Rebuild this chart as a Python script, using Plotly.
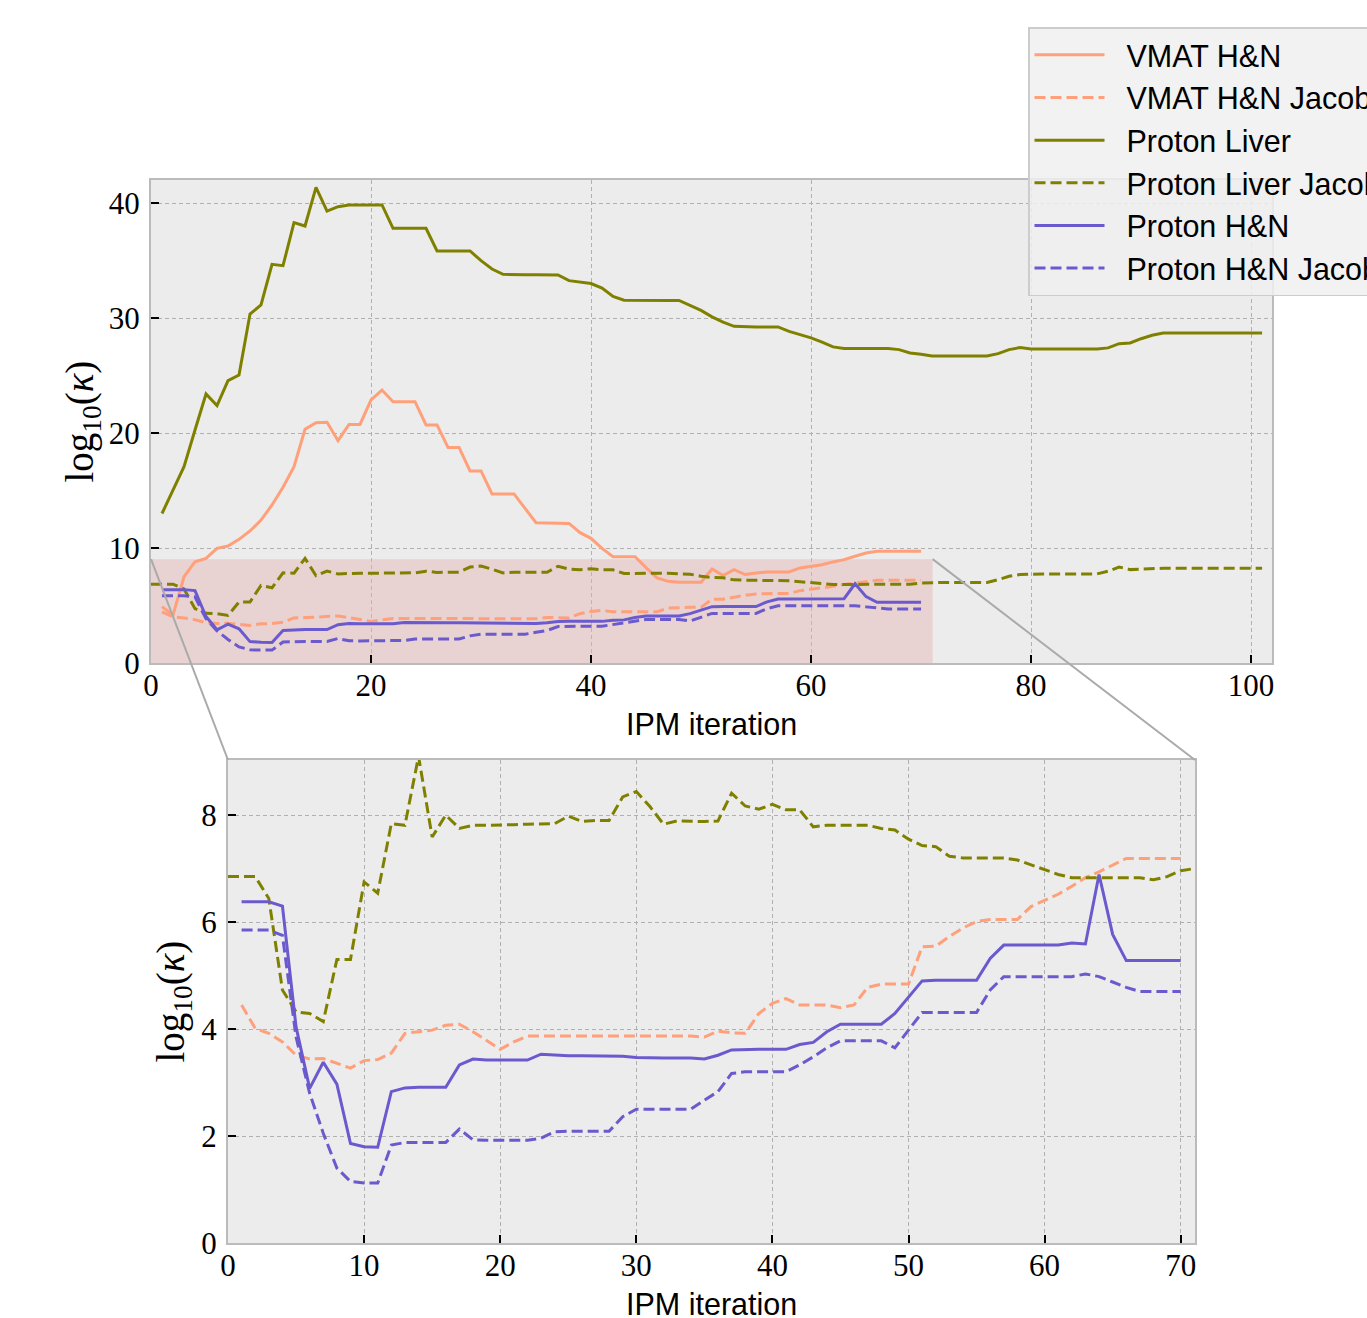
import plotly.graph_objects as go

W, H = 1367, 1318

# ---------------- data ----------------
iters_70 = list(range(1, 71))
iters_101 = list(range(1, 102))
iters_liver_jac = list(range(0, 102))

vmat_hn = [4.9, 4.17, 7.5, 8.81, 9.10, 9.97, 10.17, 10.75, 11.48, 12.43,
           13.74, 15.28, 17.07, 20.32, 20.9, 20.93, 19.33, 20.75, 20.75, 22.87,
           23.74, 22.72, 22.72, 22.72, 20.7, 20.7, 18.75, 18.75, 16.7, 16.7,
           14.7, 14.7, 14.7, 13.45, 12.2, 12.17, 12.15, 12.14, 11.33, 10.84,
           9.97, 9.25, 9.25, 9.25, 8.3, 7.4, 7.1, 7.02, 7.02, 7.02,
           8.18, 7.6, 8.12, 7.69, 7.83, 7.92, 7.92, 7.92, 8.27, 8.41,
           8.55, 8.79, 8.99, 9.28, 9.57, 9.71, 9.71, 9.71, 9.71, 9.71]

vmat_hn_jac = [4.45, 4.01, 3.92, 3.76, 3.51, 3.44, 3.45, 3.36, 3.27, 3.41,
               3.43, 3.55, 3.92, 3.95, 3.98, 4.07, 4.09, 3.95, 3.79, 3.62,
               3.76, 3.87, 3.87, 3.87, 3.87, 3.87, 3.87, 3.87, 3.87, 3.87,
               3.87, 3.87, 3.87, 3.87, 3.85, 3.96, 3.93, 3.92, 4.29, 4.48,
               4.57, 4.45, 4.45, 4.45, 4.40, 4.45, 4.78, 4.84, 4.84, 4.84,
               5.54, 5.55, 5.73, 5.89, 6.01, 6.05, 6.05, 6.05, 6.29, 6.41,
               6.52, 6.67, 6.83, 6.94, 7.07, 7.19, 7.19, 7.19, 7.19, 7.19]

proton_liver = [13.0, 15.04, 17.07, 20.26, 23.39, 22.38, 24.55, 25.04, 30.35, 31.13,
                34.67, 34.55, 38.29, 38.0, 41.36, 39.30, 39.68, 39.83, 39.83, 39.83,
                39.83, 37.8, 37.8, 37.8, 37.8, 35.83, 35.83, 35.83, 35.83, 34.99,
                34.26, 33.8, 33.76, 33.76, 33.76, 33.76, 33.74, 33.25, 33.1, 33.0,
                32.6, 31.87, 31.55, 31.53, 31.53, 31.53, 31.53, 31.53, 31.1, 30.66,
                30.1, 29.65, 29.28, 29.22, 29.22, 29.22, 29.22, 28.84, 28.55, 28.27,
                27.9, 27.49, 27.34, 27.34, 27.34, 27.34, 27.34, 27.25, 26.96, 26.85,
                26.7, 26.7, 26.7, 26.7, 26.7, 26.7, 26.9, 27.25, 27.43, 27.31,
                27.31, 27.31, 27.31, 27.31, 27.31, 27.31, 27.4, 27.77, 27.83, 28.2,
                28.5, 28.7, 28.7, 28.7, 28.7, 28.7, 28.7, 28.7, 28.7, 28.7,
                28.7]

proton_liver_jac = [6.85, 6.85, 6.85, 6.44, 4.73, 4.32, 4.29, 4.14, 5.30, 5.30,
                    6.75, 6.54, 7.84, 7.81, 9.10, 7.59, 8.0, 7.75, 7.81, 7.81,
                    7.81, 7.82, 7.83, 7.83, 7.84, 7.98, 7.88, 7.90, 7.90, 8.34,
                    8.44, 8.16, 7.83, 7.89, 7.88, 7.88, 7.89, 8.41, 8.17, 8.11,
                    8.20, 8.10, 8.10, 7.78, 7.81, 7.81, 7.81, 7.81, 7.75, 7.72,
                    7.55, 7.43, 7.41, 7.23, 7.20, 7.20, 7.20, 7.20, 7.16, 7.07,
                    6.97, 6.89, 6.83, 6.83, 6.83, 6.83, 6.83, 6.83, 6.79, 6.85,
                    6.96, 7.0, 7.0, 7.0, 7.0, 7.0, 7.0, 7.25, 7.54, 7.69,
                    7.75, 7.75, 7.75, 7.75, 7.75, 7.75, 7.75, 7.98, 8.35, 8.12,
                    8.18, 8.24, 8.24, 8.24, 8.24, 8.24, 8.24, 8.24, 8.24, 8.24,
                    8.24, 8.24]

proton_hn = [6.38, 6.38, 6.38, 6.30, 4.04, 2.89, 3.38, 2.97, 1.86, 1.80,
             1.79, 2.83, 2.90, 2.91, 2.91, 2.91, 3.33, 3.44, 3.42, 3.42,
             3.42, 3.42, 3.53, 3.51, 3.50, 3.50, 3.50, 3.50, 3.49, 3.47,
             3.46, 3.46, 3.46, 3.46, 3.44, 3.51, 3.61, 3.62, 3.62, 3.62,
             3.62, 3.71, 3.75, 3.95, 4.09, 4.09, 4.09, 4.09, 4.29, 4.60,
             4.90, 4.91, 4.91, 4.91, 4.91, 5.32, 5.57, 5.57, 5.57, 5.57,
             5.57, 5.61, 5.59, 6.89, 5.77, 5.28, 5.28, 5.28, 5.28, 5.28]

proton_hn_jac = [5.85, 5.85, 5.85, 5.75, 3.85, 2.80, 2.05, 1.40, 1.15, 1.12,
                 1.12, 1.83, 1.88, 1.88, 1.88, 1.88, 2.13, 1.93, 1.92, 1.92,
                 1.92, 1.92, 1.96, 2.08, 2.09, 2.09, 2.09, 2.09, 2.36, 2.50,
                 2.50, 2.50, 2.50, 2.50, 2.67, 2.83, 3.17, 3.20, 3.20, 3.20,
                 3.20, 3.33, 3.48, 3.65, 3.78, 3.78, 3.78, 3.78, 3.65, 3.98,
                 4.31, 4.31, 4.31, 4.31, 4.31, 4.73, 4.98, 4.98, 4.98, 4.98,
                 4.98, 4.98, 5.03, 4.98, 4.88, 4.78, 4.70, 4.70, 4.70, 4.70]

top_xticks = [0, 20, 40, 60, 80, 100]
top_yticks = [0, 10, 20, 30, 40]
bot_xticks = [0, 10, 20, 30, 40, 50, 60, 70]
bot_yticks = [0, 2, 4, 6, 8]

# ---------------- styling ----------------
SALMON = "#ffa07a"
OLIVE = "#808000"
SLATE = "#6a5acd"
LW = 3
DASH = "11px,5px"

top_xdom = [151 / W, 1272 / W]
top_ydom = [1 - 663 / H, 1 - 180 / H]
bot_xdom = [228 / W, 1195 / W]
bot_ydom = [1 - 1243 / H, 1 - 760 / H]
top_xrng = [0, 101.9]
top_yrng = [0, 42.0]
bot_xrng = [0, 71.05]
bot_yrng = [0, 9.03]


def to_paper(dom, rng, v):
    return dom[0] + (v - rng[0]) / (rng[1] - rng[0]) * (dom[1] - dom[0])


fig = go.Figure()

series = [
    ("VMAT H&N", iters_70, vmat_hn, SALMON, "solid", False),
    ("VMAT H&N Jacobian", iters_70, vmat_hn_jac, SALMON, DASH, True),
    ("Proton Liver", iters_101, proton_liver, OLIVE, "solid", False),
    ("Proton Liver Jacobian", iters_liver_jac, proton_liver_jac, OLIVE, DASH, True),
    ("Proton H&N", iters_70, proton_hn, SLATE, "solid", True),
    ("Proton H&N Jacobian", iters_70, proton_hn_jac, SLATE, DASH, True),
]

NB = "\u00a0\u00a0"
for name, xs, ys, col, dash, in_inset in series:
    fig.add_trace(go.Scatter(x=xs, y=ys, mode="lines", name=NB + name,
                             legendgroup=name,
                             line=dict(color=col, width=LW, dash=dash),
                             xaxis="x", yaxis="y", showlegend=True))

for name, xs, ys, col, dash, in_inset in series:
    if in_inset:
        fig.add_trace(go.Scatter(x=xs, y=ys, mode="lines", name=name,
                                 line=dict(color=col, width=LW, dash=dash),
                                 xaxis="x2", yaxis="y2", showlegend=False))

axis_common = dict(
    showgrid=True, gridcolor="#b0b0b0", gridwidth=1, griddash="4px,3px",
    showline=True, linecolor="#bbbbbb", linewidth=2, mirror=True,
    ticks="inside", ticklen=8, tickwidth=2, tickcolor="black",
    zeroline=False,
    tickfont=dict(family="Liberation Serif", size=31, color="black"),
)

fig.update_layout(
    width=W, height=H,
    margin=dict(l=0, r=0, t=0, b=0, autoexpand=False),
    paper_bgcolor="white",
    plot_bgcolor="#ececec",
    xaxis=dict(domain=top_xdom, range=top_xrng, tickvals=top_xticks,
               anchor="y", ticklabelstandoff=-6, **axis_common),
    yaxis=dict(domain=top_ydom, range=top_yrng, tickvals=top_yticks,
               anchor="x", ticklabelstandoff=3, **axis_common),
    xaxis2=dict(domain=bot_xdom, range=bot_xrng, tickvals=bot_xticks,
                anchor="y2", ticklabelstandoff=-6, **axis_common),
    yaxis2=dict(domain=bot_ydom, range=bot_yrng, tickvals=bot_yticks,
                anchor="x2", ticklabelstandoff=3, **axis_common),
    legend=dict(x=1028 / W, y=1 - 27 / H, xanchor="left", yanchor="top",
                bgcolor="rgba(240,240,240,0.85)", bordercolor="#cccccc",
                borderwidth=1.5,
                font=dict(family="Liberation Sans", size=30.5, color="black"),
                itemwidth=70, tracegroupgap=0),
    showlegend=True,
)

# zoom indicator rectangle on the main axes
fig.add_shape(type="rect", xref="x", yref="y",
              x0=bot_xrng[0], x1=bot_xrng[1], y0=bot_yrng[0], y1=bot_yrng[1],
              fillcolor="rgba(230,180,180,0.45)", line=dict(width=0),
              layer="between")

# connector lines (rect corners -> inset corners), computed through the scales
rx0 = to_paper(top_xdom, top_xrng, bot_xrng[0])
rx1 = to_paper(top_xdom, top_xrng, bot_xrng[1])
ry1 = to_paper(top_ydom, top_yrng, bot_yrng[1])
fig.add_shape(type="line", xref="paper", yref="paper",
              x0=rx0, y0=ry1, x1=bot_xdom[0], y1=bot_ydom[1],
              line=dict(color="#aaaaaa", width=2))
fig.add_shape(type="line", xref="paper", yref="paper",
              x0=rx1, y0=ry1, x1=bot_xdom[1], y1=bot_ydom[1],
              line=dict(color="#aaaaaa", width=2))

# axis labels
ylab = "log<sub>10</sub>(<i>κ</i>)"
for xd, yd, lx in [(top_xdom, top_ydom, 82), (bot_xdom, bot_ydom, 173)]:
    fig.add_annotation(text=ylab, xref="paper", yref="paper",
                       x=lx / W, y=(yd[0] + yd[1]) / 2, textangle=-90,
                       showarrow=False, xanchor="center", yanchor="middle",
                       font=dict(family="Liberation Serif", size=39, color="black"))
for xd, yd, ly in [(top_xdom, top_ydom, 724), (bot_xdom, bot_ydom, 1304)]:
    fig.add_annotation(text="IPM iteration", xref="paper", yref="paper",
                       x=(xd[0] + xd[1]) / 2, y=1 - ly / H,
                       showarrow=False, xanchor="center", yanchor="middle",
                       font=dict(family="Liberation Sans", size=30.5, color="black"))

fig.write_html("out.html",
               config={"displayModeBar": False},
               post_script="document.body.style.margin='0';document.body.style.padding='0';")
